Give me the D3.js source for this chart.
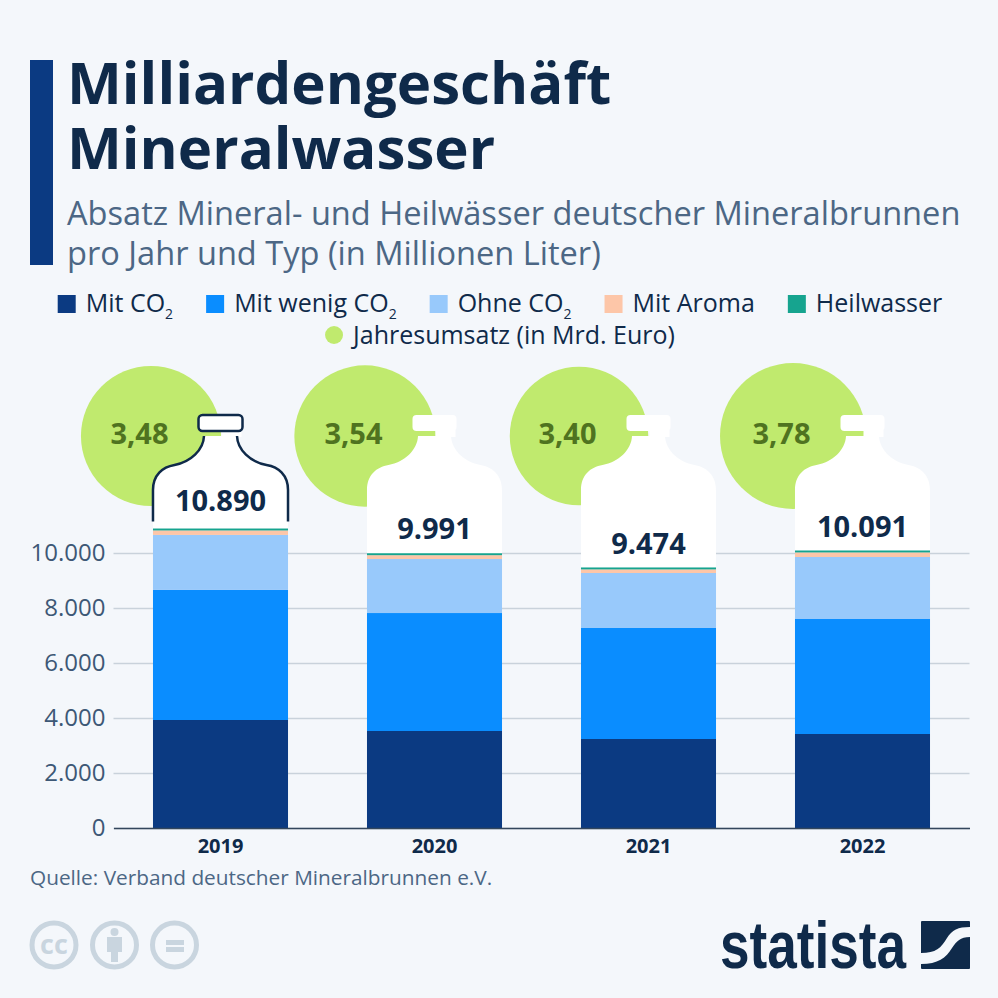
<!DOCTYPE html>
<html lang="de">
<head>
  <meta charset="UTF-8">
  <title>Milliardengeschäft Mineralwasser</title>
  <script src="https://d3js.org/d3.v7.min.js"></script>
  <style>
    html, body { margin: 0; padding: 0; background: #f4f7fb; }
    svg { display: block; }
    text { font-family: "Open Sans", sans-serif; }
    .tick text { font-family: "Open Sans", sans-serif; }
  </style>
</head>
<body>
  <svg width="998" height="998"></svg>

  <script>
    // Data
    const years = ["2019", "2020", "2021", "2022"];
    const mitCo2 = [3927, 3527, 3236, 3418];
    const mitWenigCo2 = [4730, 4290, 4037, 4182];
    const ohneCo2 = [2000, 1964, 2000, 2255];
    const mitAroma = [163, 140, 131, 166];
    const heilwasser = [70, 70, 70, 70];
    const totals = ["10.890", "9.991", "9.474", "10.091"];
    const umsatz = [3.48, 3.54, 3.40, 3.78];
    const yTicks = [0, 2000, 4000, 6000, 8000, 10000];
    const seriesKeys = ["mitCo2", "mitWenigCo2", "ohneCo2", "mitAroma", "heilwasser"];
    const seriesColors = ["#0b3a82", "#0a8dff", "#98c9fb", "#fdc6a8", "#16a48f"];

    const table = years.map((year, i) => ({
      year,
      mitCo2: mitCo2[i],
      mitWenigCo2: mitWenigCo2[i],
      ohneCo2: ohneCo2[i],
      mitAroma: mitAroma[i],
      heilwasser: heilwasser[i],
      total: totals[i],
      umsatz: umsatz[i]
    }));

    const svg = d3.select("svg");
    const navy = "#0f2a4a";
    const slate = "#4c6785";

    // Header
    svg.append("rect").attr("x", 30).attr("y", 60).attr("width", 23).attr("height", 205).attr("fill", "#0b3a82");

    const titleLines = ["Milliardengeschäft", "Mineralwasser"];
    svg.selectAll(".title").data(titleLines).enter().append("text")
      .attr("class", "title")
      .attr("x", 67)
      .attr("y", (d, i) => 104 + i * 65)
      .attr("font-size", 58.2)
      .attr("font-weight", 700)
      .attr("fill", navy)
      .text(d => d);

    const subtitleLines = ["Absatz Mineral- und Heilwässer deutscher Mineralbrunnen", "pro Jahr und Typ (in Millionen Liter)"];
    svg.selectAll(".subtitle").data(subtitleLines).enter().append("text")
      .attr("class", "subtitle")
      .attr("x", 67)
      .attr("y", (d, i) => 225 + i * 40)
      .attr("font-size", 32.6)
      .attr("fill", slate)
      .text(d => d);

    // Legend, flowed and centered
    const legendGap = 33;
    const legendRows = [
      [["Mit CO", "2", 0], ["Mit wenig CO", "2", 1], ["Ohne CO", "2", 2], ["Mit Aroma", "", 3], ["Heilwasser", "", 4]],
      [["Jahresumsatz (in Mrd. Euro)", "", -1]]
    ];
    legendRows.forEach((row, r) => {
      const baseY = 312 + r * 32;
      const rowG = svg.append("g");
      let cx = 0;
      row.forEach(([label, sub, colorIdx]) => {
        const g = rowG.append("g").attr("transform", `translate(${cx},0)`);
        if (colorIdx >= 0) {
          g.append("rect").attr("x", 0).attr("y", baseY - 17).attr("width", 18).attr("height", 18).attr("fill", seriesColors[colorIdx]);
        } else {
          g.append("circle").attr("cx", 9).attr("cy", baseY - 9).attr("r", 9).attr("fill", "#c0ea6e");
        }
        const t = g.append("text").attr("x", 28).attr("y", baseY).attr("font-size", 25).attr("fill", navy).text(label);
        if (sub) t.append("tspan").attr("dy", 7).attr("font-size", 14).text(sub);
        cx += 28 + t.node().getComputedTextLength() + legendGap;
      });
      rowG.attr("transform", `translate(${500 - (cx - legendGap) / 2},0)`);
    });

    // Scales
    const x = d3.scaleBand().domain(years).range([113.5, 969.5]).paddingInner(0.369).paddingOuter(0.1845);
    const y = d3.scaleLinear().domain([0, 10000]).range([828, 553]);
    const r = d3.scaleSqrt().domain([0, 3.78]).range([0, 73]);

    const centerX = d => x(d.year) + x.bandwidth() / 2;
    const topY = d => y(d.mitCo2 + d.mitWenigCo2 + d.ohneCo2 + d.mitAroma + d.heilwasser);

    // Grid and y axis
    const yAxis = d3.axisLeft(y).tickValues(yTicks).tickSize(-856)
      .tickFormat(d => d3.format(",")(d).replace(",", "."));
    const yG = svg.append("g").attr("transform", "translate(113.5,0)").call(yAxis);
    yG.select(".domain").remove();
    yG.selectAll(".tick line").attr("stroke", "#c9d2db").attr("stroke-width", 1.6);
    yG.selectAll(".tick text").attr("x", -8).attr("font-size", 24).attr("fill", "#3d5876");

    // Revenue bubbles
    const bubbleG = svg.selectAll(".bubble").data(table).enter().append("g").attr("class", "bubble");
    bubbleG.append("circle")
      .attr("cx", d => centerX(d) - 69.5)
      .attr("cy", 436)
      .attr("r", d => r(d.umsatz))
      .attr("fill", "#c0ea6e");
    bubbleG.append("text")
      .attr("x", d => centerX(d) - 81)
      .attr("y", 434)
      .attr("dy", "0.35em")
      .attr("text-anchor", "middle")
      .attr("font-size", 29)
      .attr("font-weight", 700)
      .attr("fill", "#4f7320")
      .text(d => d3.format(".2f")(d.umsatz).replace(".", ","));

    // Bottle silhouette: top stays put, body runs down to the top of the stack
    const halfW = x.bandwidth() / 2;
    const leftSide = c => `L${c - halfW},490
        C${c - halfW},475 ${c - 58},467 ${c - 46},465
        C${c - 30},462 ${c - 17},450 ${c - 16.5},436`;
    const rightSide = c => `C${c + 17},450 ${c + 30},462 ${c + 46},465
        C${c + 58},467 ${c + halfW},475 ${c + halfW},490
        L${c + halfW},`;
    const bodyPath = (c, bottom) => `M${c - halfW},${bottom} ${leftSide(c)} L${c + 16.5},436 ${rightSide(c)}${bottom} Z`;
    const outlinePath = (c, bottom) => `M${c - halfW},${bottom} ${leftSide(c)} M${c + 16.5},436 ${rightSide(c)}${bottom}`;

    const bottleG = svg.selectAll(".bottle").data(table).enter().append("g").attr("class", "bottle");
    bottleG.append("path")
      .attr("d", d => bodyPath(centerX(d), topY(d) + 1))
      .attr("fill", "#fff");
    // narrow collar between cap and neck
    bottleG.append("rect")
      .attr("x", d => centerX(d) + 1)
      .attr("y", 430)
      .attr("width", 20)
      .attr("height", 7)
      .attr("fill", "#fff");
    bottleG.append("rect")
      .attr("x", d => centerX(d) - 22)
      .attr("y", 415)
      .attr("width", 44)
      .attr("height", 16)
      .attr("rx", 4)
      .attr("fill", "#fff")
      .attr("stroke", (d, i) => i === 0 ? navy : "none")
      .attr("stroke-width", 2.5);
    // only the first bottle is outlined
    bottleG.filter((d, i) => i === 0).append("path")
      .attr("d", d => outlinePath(centerX(d), topY(d) - 7))
      .attr("fill", "none")
      .attr("stroke", navy)
      .attr("stroke-width", 2.5);

    // Stacked bars
    const stack = d3.stack().keys(seriesKeys)(table);
    svg.selectAll(".series").data(stack).enter().append("g")
      .attr("class", "series")
      .attr("fill", (d, i) => seriesColors[i])
      .selectAll("rect").data(d => d).enter().append("rect")
      .attr("x", d => x(d.data.year))
      .attr("width", x.bandwidth())
      .attr("y", d => y(d[1]))
      .attr("height", d => y(d[0]) - y(d[1]));

    // Totals in the bottle
    svg.selectAll(".total").data(table).enter().append("text")
      .attr("class", "total")
      .attr("x", centerX)
      .attr("y", (d, i) => topY(d) - (i === 0 ? 28 : 24))
      .attr("dy", "0.35em")
      .attr("text-anchor", "middle")
      .attr("font-size", 29)
      .attr("font-weight", 700)
      .attr("fill", navy)
      .text(d => d.total);

    // X axis
    const xAxis = d3.axisBottom(x).tickSize(0).tickPadding(11);
    const xG = svg.append("g").attr("transform", "translate(0,828)").call(xAxis);
    xG.select(".domain").attr("stroke", "#33465c").attr("stroke-width", 1.6);
    xG.selectAll(".tick text").attr("font-size", 20).attr("font-weight", 700).attr("fill", navy);

    // Source
    svg.append("text").attr("x", 30).attr("y", 885).attr("font-size", 20.8).attr("fill", slate)
      .text("Quelle: Verband deutscher Mineralbrunnen e.V.");

    // Licence icons
    const iconColor = "#c9d5df";
    const icons = svg.append("g").attr("fill", "none").attr("stroke", iconColor).attr("stroke-width", 5);
    [54, 114.5, 174.5].forEach(cx => icons.append("circle").attr("cx", cx).attr("cy", 945).attr("r", 22));
    svg.append("text").attr("x", 54).attr("y", 954).attr("text-anchor", "middle")
      .attr("font-size", 27).attr("font-weight", 700).attr("fill", iconColor).text("cc");
    const glyphs = svg.append("g").attr("fill", iconColor);
    glyphs.append("circle").attr("cx", 114.5).attr("cy", 932).attr("r", 4);
    glyphs.append("rect").attr("x", 107).attr("y", 937).attr("width", 15).attr("height", 15);
    glyphs.append("rect").attr("x", 111).attr("y", 952).attr("width", 7).attr("height", 10);
    glyphs.append("rect").attr("x", 166).attr("y", 940).attr("width", 18).attr("height", 5);
    glyphs.append("rect").attr("x", 166).attr("y", 947).attr("width", 18).attr("height", 5);

    // Statista logo
    svg.append("text").attr("x", 720).attr("y", 968)
      .attr("textLength", 186).attr("lengthAdjust", "spacingAndGlyphs")
      .style("font-family", '"Liberation Sans Narrow", "Liberation Sans", sans-serif')
      .attr("font-size", 66).attr("font-weight", 700).attr("fill", navy).text("statista");
    svg.append("rect").attr("x", 921).attr("y", 921).attr("width", 49).attr("height", 48).attr("rx", 1).attr("fill", navy);
    svg.append("path").attr("fill", "#f4f7fb")
      .attr("d", "M921,953 C936,953 941,948 947,938 C952,930 958,927 970,927 L970,937 C960,937 957,941 952,948 C946,958 938,964 921,964 Z");
  </script>
</body>
</html>
